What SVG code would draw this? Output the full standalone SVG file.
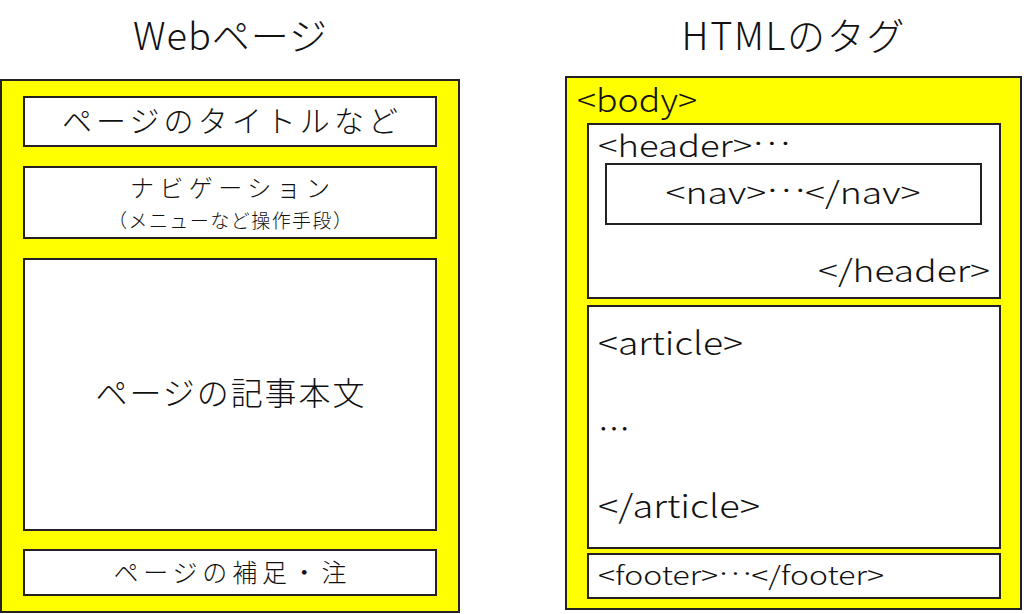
<svg xmlns="http://www.w3.org/2000/svg" width="1024" height="614" viewBox="0 0 1024 614">
<style>
.outer{fill:#ffff00;stroke:#222;stroke-width:2}
.box{fill:#fff;stroke:#222;stroke-width:2}
text{font-family:"Noto Sans CJK JP","Noto Sans",sans-serif;font-weight:300;fill:#111}
.c{text-anchor:middle}
</style>
<rect width="1024" height="614" fill="#fff"/>
<text class="c" x="230" y="50" font-size="38" textLength="194" lengthAdjust="spacing">Webページ</text>
<text class="c" x="793" y="50" font-size="38" textLength="223" lengthAdjust="spacing">HTMLのタグ</text>
<g id="webpage">
<rect class="outer" x="1" y="80" width="458" height="532"/>
<g id="page-title"><rect class="box" x="24" y="97" width="412" height="49"/><text class="c" x="230" y="132" font-size="30" textLength="336" lengthAdjust="spacing">ページのタイトルなど</text></g>
<g id="page-nav"><rect class="box" x="24" y="167" width="412" height="71"/><text class="c" x="230" y="197" font-size="24" textLength="200" lengthAdjust="spacing">ナビゲーション</text><text class="c" x="230" y="228" font-size="19" textLength="244" lengthAdjust="spacing">（メニューなど操作手段）</text></g>
<g id="page-article"><rect class="box" x="24" y="259" width="412" height="271"/><text class="c" x="230" y="405" font-size="32" textLength="269" lengthAdjust="spacing">ページの記事本文</text></g>
<g id="page-footer"><rect class="box" x="24" y="550" width="412" height="45"/><text class="c" x="230" y="582" font-size="25" textLength="233" lengthAdjust="spacing">ページの補足・注</text></g>
</g>
<g id="html">
<rect class="outer" x="566" y="77" width="455" height="532"/>
<text x="577" y="112" font-size="32" textLength="120" lengthAdjust="spacingAndGlyphs">&lt;body&gt;</text>
<g id="header"><rect class="box" x="588" y="124" width="412" height="174"/><text x="598" y="157" font-size="30" textLength="192" lengthAdjust="spacingAndGlyphs">&lt;header&gt;<tspan dy="-12">…</tspan></text><text x="990" y="282" font-size="30" text-anchor="end" textLength="172" lengthAdjust="spacingAndGlyphs">&lt;/header&gt;</text></g>
<g id="nav"><rect class="box" x="606" y="164" width="375" height="60"/><text class="c" x="793" y="204" font-size="30" textLength="255" lengthAdjust="spacingAndGlyphs">&lt;nav&gt;<tspan dy="-12">…</tspan><tspan dy="12">&lt;/nav&gt;</tspan></text></g>
<g id="article"><rect class="box" x="588" y="306" width="412" height="242"/><text x="598" y="355" font-size="32" textLength="145" lengthAdjust="spacingAndGlyphs">&lt;article&gt;</text><text x="598" y="441" font-size="32" textLength="30" lengthAdjust="spacing">…</text><text x="598" y="518" font-size="32" textLength="162" lengthAdjust="spacingAndGlyphs">&lt;/article&gt;</text></g>
<g id="footer"><rect class="box" x="588" y="554" width="412" height="44"/><text x="598" y="585" font-size="26" textLength="286" lengthAdjust="spacingAndGlyphs">&lt;footer&gt;<tspan dy="-10">…</tspan><tspan dy="10">&lt;/footer&gt;</tspan></text></g>
</g>
<g id="connectors"/>
</svg>
